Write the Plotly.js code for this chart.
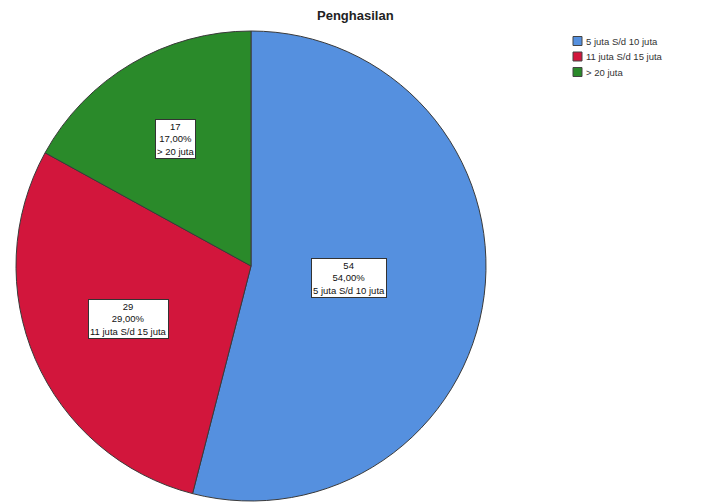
<!DOCTYPE html>
<html>
<head>
<meta charset="utf-8">
<script src="https://cdn.plot.ly/plotly-3.0.1.min.js"></script>
<style>html,body{margin:0;padding:0;background:#fff;}#chart{width:702px;height:503px;}</style>
</head>
<body>
<div id="chart"></div>
<script>
const categories = ["5 juta S/d 10 juta", "11 juta S/d 15 juta", "> 20 juta"];
const counts = [54, 29, 17];
const percentLabels = ["54,00%", "29,00%", "17,00%"];
const sliceColors = ["#5590DF", "#D2163C", "#2A8A2A"];
const chartTitle = "Penghasilan";

// pie geometry (domain in paper coords)
const W = 702, H = 503;
const cx = 251, cy = 266, R = 235;
const domX = [(cx - R) / W, (cx + R) / W];
const domY = [1 - (cy + R) / H, 1 - (cy - R) / H];

const FONT = "Liberation Sans, Arial, sans-serif";

// label annotations positioned from data via slice mid-angles
const total = counts.reduce((a, b) => a + b, 0);
const labelRadius = [0.42, 0.57, 0.63];
let cum = 0;
const annotations = counts.map((v, i) => {
  const mid = (cum + v / 2) / total * 2 * Math.PI;
  cum += v;
  const px = cx + Math.sin(mid) * R * labelRadius[i];
  const py = cy - Math.cos(mid) * R * labelRadius[i];
  return {
    x: px / W, y: 1 - py / H, xref: "paper", yref: "paper",
    xanchor: "center", yanchor: "middle",
    text: v + "<br>" + percentLabels[i] + "<br>" + categories[i],
    showarrow: false, bgcolor: "#ffffff", bordercolor: "#333333", borderwidth: 1,
    borderpad: 1, font: {family: FONT, size: 9.5, color: "#111"},
    align: "center"
  };
});
annotations.push({
  x: 355 / W, y: 1 - 16 / H, xref: "paper", yref: "paper", showarrow: false,
  xanchor: "center", yanchor: "middle",
  text: "<b>" + chartTitle + "</b>",
  font: {family: FONT, size: 13, color: "#222"}
});

// manual legend (square + label per category)
const legX = 573, legY0 = 41, legStep = 15.5, sq = 9;
const shapes = [];
categories.forEach((c, i) => {
  const yc = legY0 + i * legStep;
  shapes.push({
    type: "rect", xref: "paper", yref: "paper",
    x0: legX / W, x1: (legX + sq) / W,
    y0: 1 - (yc + sq / 2) / H, y1: 1 - (yc - sq / 2) / H,
    fillcolor: sliceColors[i], line: {color: "#444", width: 1}
  });
  annotations.push({
    x: (legX + sq + 2) / W, y: 1 - yc / H, xref: "paper", yref: "paper",
    xanchor: "left", yanchor: "middle", showarrow: false,
    text: c.replace(">", "&gt;"), font: {family: FONT, size: 9.5, color: "#333"}
  });
});

const data = [{
  type: "pie",
  labels: categories,
  values: counts,
  sort: false,
  direction: "clockwise",
  rotation: 0,
  textinfo: "none",
  hoverinfo: "label+value+percent",
  marker: {colors: sliceColors, line: {color: "#3a3a3a", width: 1}},
  domain: {x: domX, y: domY}
}];

const layout = {
  width: W, height: H,
  margin: {l: 0, r: 0, t: 0, b: 0},
  paper_bgcolor: "#ffffff",
  plot_bgcolor: "#ffffff",
  showlegend: false,
  annotations: annotations,
  shapes: shapes
};

Plotly.newPlot("chart", data, layout, {displayModeBar: false, staticPlot: true});
</script>
</body>
</html>
